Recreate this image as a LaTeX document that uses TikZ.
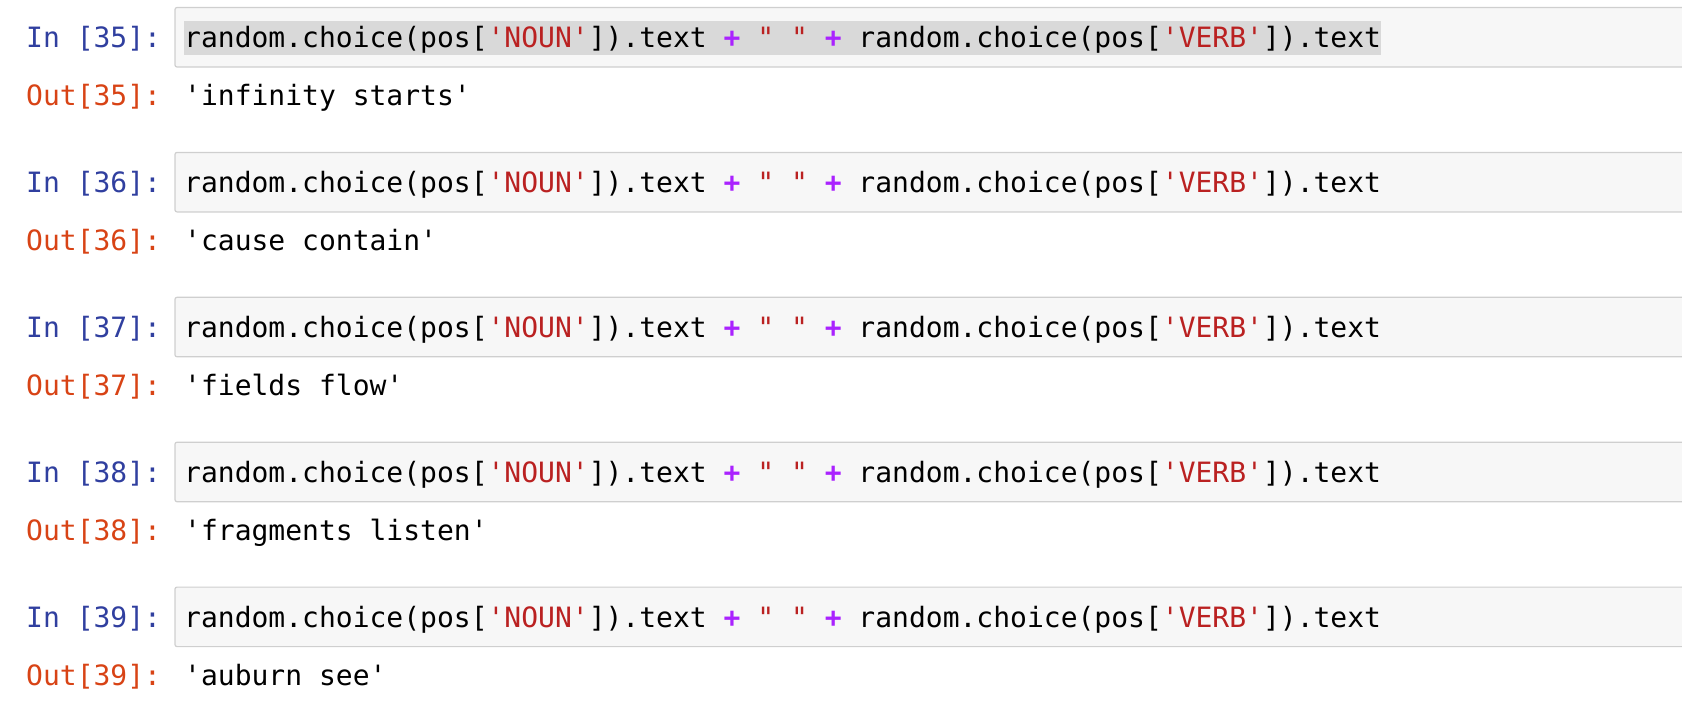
\documentclass[tikz,border=0pt]{standalone}
\usepackage{fontspec}
\setmonofont{DejaVu Sans Mono}

% Colores del cuaderno
\definecolor{promptin}{HTML}{303F9F}
\definecolor{promptout}{HTML}{D84315}
\definecolor{strred}{HTML}{BA2121}
\definecolor{oppurple}{HTML}{AA22FF}
\definecolor{cellbg}{HTML}{F7F7F7}
\definecolor{cellborder}{HTML}{CFCFCF}
\definecolor{selgray}{HTML}{D9D9D9}

\newcommand{\strtok}[1]{\textcolor{strred}{#1}}
\newcommand{\optok}[1]{\textcolor{oppurple}{\bfseries #1}}
\newcommand{\posline}{random.choice(pos[\strtok{'NOUN'}]).text \optok{+} \strtok{" "} \optok{+} random.choice(pos[\strtok{'VERB'}]).text}

\begin{document}
\begin{tikzpicture}[x=1pt, y=-1pt,
    mono/.style={anchor=base west, inner sep=0pt, font=\ttfamily\fontsize{28}{34}\selectfont},
    inprompt/.style={mono, text=promptin},
    outprompt/.style={mono, text=promptout},
    cellbox/.style={draw=cellborder, fill=cellbg, line width=1.2pt, rounded corners=2pt}]
    \useasboundingbox (0,0) rectangle (1682,704);

    % Celdas de entrada
    \foreach \i in {0,...,4}{
        \pgfmathsetmacro{\top}{7.5+144.9*\i}
        \draw[cellbox] (175,\top) rectangle (1700,\top+59.5);
    }
    % Seleccion en la primera celda
    \fill[selgray] (184,21) rectangle (1381,55);

    % Textos
    \foreach \n/\res [count=\i from 0] in {35/infinity starts, 36/cause contain, 37/fields flow, 38/fragments listen, 39/auburn see}{
        \pgfmathsetmacro{\top}{7.5+144.9*\i}
        \node[inprompt] (in\n) at (26,\top+40) {In [\n]:};
        \node[mono] (code\n) at (184,\top+40) {\posline};
        \node[outprompt] (out\n) at (26,\top+98) {Out[\n]:};
        \node[mono] (res\n) at (184,\top+98) {'\res'};
    }
\end{tikzpicture}
\end{document}
